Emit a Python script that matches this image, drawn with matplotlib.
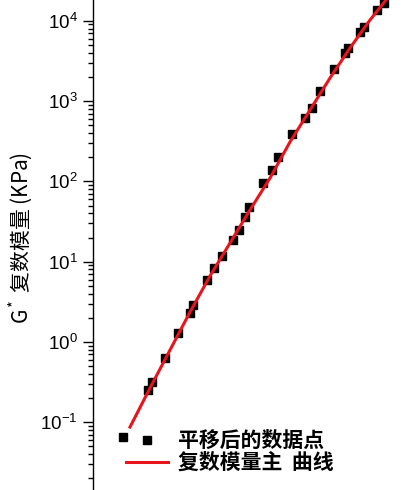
# plot.py
# 复数模量主曲线 (G*) 重现图

import matplotlib
matplotlib.use("Agg")
import matplotlib.pyplot as plt
from matplotlib.ticker import FuncFormatter, FixedLocator
import numpy as np

plt.rcParams["font.family"] = ["Noto Sans CJK SC", "DejaVu Sans"]
plt.rcParams["mathtext.fontset"] = "custom"
plt.rcParams["mathtext.rm"] = "Liberation Sans"
plt.rcParams["mathtext.it"] = "Liberation Sans:italic"

# 平移后的数据点 (缩减频率, G* kPa)
freq_pts = [3.98e-6, 1.26e-5, 1.51e-5, 2.75e-5, 5.01e-5, 8.71e-5, 1.00e-4,
            1.91e-4, 2.63e-4, 3.80e-4, 6.31e-4, 8.32e-4, 1.10e-3, 1.32e-3,
            2.51e-3, 3.80e-3, 5.01e-3, 9.55e-3, 1.74e-2, 2.40e-2, 3.47e-2,
            6.61e-2, 0.110, 0.126, 0.219, 0.263, 0.479, 0.661]
g_pts = [0.0656, 0.252, 0.318, 0.632, 1.29, 2.30, 2.89,
         5.92, 8.35, 11.8, 18.6, 24.8, 36.0, 48.0,
         95.5, 139, 201, 389, 616, 821, 1336,
         2512, 3972, 4585, 7256, 8375, 13630, 16680]

# 主曲线
freq_fit = [5.50e-6, 1.38e-5, 3.47e-5, 8.71e-5, 2.19e-4, 5.50e-4, 1.38e-3,
            3.47e-3, 8.71e-3, 2.19e-2, 5.50e-2, 0.138, 0.347, 0.724]
g_fit = [0.0873, 0.267, 0.795, 2.36, 6.64, 17.1, 44.1,
         110, 310, 775, 1940, 4585, 10230, 18150]

y_major = [1e-1, 1e0, 1e1, 1e2, 1e3, 1e4]
labels = ["平移后的数据点", "复数模量主  曲线"]

W, H = 406, 490
fig = plt.figure(figsize=(W / 100, H / 100), dpi=100)
ax = fig.add_axes([93 / W, 0, 1 - 93 / W, 1])

ax.plot(freq_pts, g_pts, "s", color="black", markersize=5.8, label=labels[0], zorder=2)
ax.plot(freq_fit, g_fit, "-", color="#e8141c", linewidth=2.2, label=labels[1], zorder=3)

ax.set_xscale("log")
ax.set_yscale("log")
ax.set_xlim(1e-6, 10 ** 0.26)
ax.set_ylim(10 ** -1.843, 10 ** 4.259)

for side in ["top", "right", "bottom"]:
    ax.spines[side].set_visible(False)
ax.spines["left"].set_linewidth(1.0)
ax.xaxis.set_visible(False)

# 次刻度: 每个十倍程内 2..9
y_minor = [m * 10.0 ** e for e in range(-2, 5) for m in range(2, 10)
           if 10 ** -1.843 < m * 10.0 ** e < 10 ** 4.259]
ax.yaxis.set_major_locator(FixedLocator(y_major))
ax.yaxis.set_minor_locator(FixedLocator(y_minor))
ax.yaxis.set_major_formatter(FuncFormatter(lambda v, p: r"$\mathregular{10^{%d}}$" % round(np.log10(v))))
ax.tick_params(axis="y", which="major", direction="out", length=7.2, width=1.0,
               labelsize=13.5, pad=4, colors="black", labelfontfamily="Liberation Sans")
ax.tick_params(axis="y", which="minor", direction="out", length=3.6, width=1.0)

ax.set_ylabel(r"$\mathregular{G^*}$ 复数模量 (KPa)", fontsize=15)
ax.yaxis.set_label_coords(-0.19, 0.514)

leg = ax.legend(loc="upper left", bbox_to_anchor=(126 / W, 1 - 430 / H),
                bbox_transform=fig.transFigure, frameon=False,
                prop={"size": 15, "weight": "bold"}, handlelength=2.0,
                handletextpad=0.5, labelspacing=0.05, borderpad=0,
                borderaxespad=0, numpoints=1)

fig.savefig("out.png", dpi=100)
